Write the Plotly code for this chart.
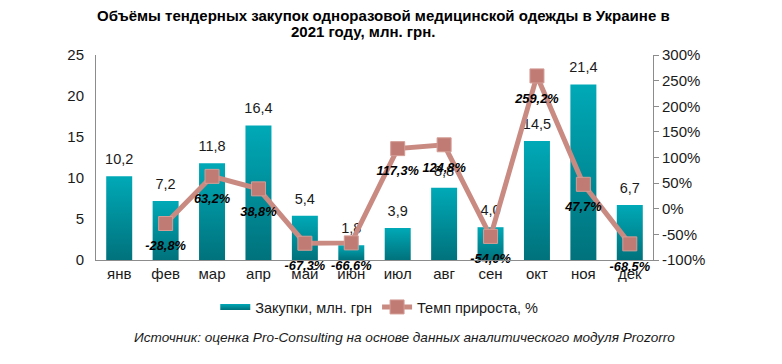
import plotly.graph_objects as go

months = ["янв", "фев", "мар", "апр", "май", "июн", "июл", "авг", "сен", "окт", "ноя", "дек"]
purchases = [10.2, 7.2, 11.8, 16.4, 5.4, 1.8, 3.9, 8.8, 4.0, 14.5, 21.4, 6.7]
growth = [None, -28.8, 63.2, 38.8, -67.3, -66.6, 117.3, 124.8, -54.0, 259.2, 47.7, -68.5]
left_ticks = [0, 5, 10, 15, 20, 25]
right_ticks = [-100, -50, 0, 50, 100, 150, 200, 250, 300]
title_lines = ["Объёмы тендерных закупок одноразовой медицинской одежды в Украине в",
               "2021 году, млн. грн."]

FONT = "Liberation Sans, Arial, sans-serif"
half = 0.28
L, T, W, H = 96, 55, 557, 205


def px(xp):
    return (xp - L) / W


def py(yp):
    return (T + H - yp) / H


fig = go.Figure()

for i, v in enumerate(purchases):
    fig.add_trace(go.Scatter(
        x=[i - half, i - half, i + half, i + half, i - half],
        y=[0, v, v, 0, 0],
        fill="toself",
        mode="none",
        fillcolor="#0096A3",
        fillgradient=dict(type="vertical",
                          colorscale=[[0, "#00727C"], [1, "#00A9B7"]]),
        name="Закупки, млн. грн",
        legendgroup="bars",
        showlegend=(i == 0),
        hoverinfo="skip",
    ))

fig.add_trace(go.Scatter(
    x=list(range(len(months))),
    y=purchases,
    mode="markers+text",
    marker=dict(size=12, opacity=0),
    text=[f"{v:.1f}".replace(".", ",") for v in purchases],
    textposition="top center",
    textfont=dict(family=FONT, size=14.5, color="#1a1a1a"),
    showlegend=False,
    hoverinfo="skip",
    cliponaxis=False,
))

gx = [i for i, g in enumerate(growth) if g is not None]
gy = [g for g in growth if g is not None]
fig.add_trace(go.Scatter(
    x=gx, y=gy,
    yaxis="y2",
    mode="lines+markers",
    line=dict(color="#C98A82", width=5),
    marker=dict(symbol="square", size=14, color="#C07C74",
                line=dict(color="#D49C95", width=1)),
    name="Темп прироста, %",
    hoverinfo="skip",
    cliponaxis=False,
))

fig.add_trace(go.Scatter(
    x=gx, y=gy,
    yaxis="y2",
    mode="markers+text",
    marker=dict(size=26, opacity=0),
    text=[f"{g:.1f}%".replace(".", ",") for g in gy],
    textposition="bottom center",
    textfont=dict(family=FONT, size=12.8, color="#000000", weight="bold", style="italic"),
    showlegend=False,
    hoverinfo="skip",
    cliponaxis=False,
))

fig.update_layout(
    width=782, height=364,
    margin=dict(l=L, r=782 - L - W, t=T, b=364 - T - H, autoexpand=False),
    paper_bgcolor="white", plot_bgcolor="white",
    font=dict(family=FONT, size=14, color="#1a1a1a"),
    xaxis=dict(
        range=[-0.5, 11.5],
        tickmode="array", tickvals=list(range(12)), ticktext=months,
        showgrid=False, zeroline=False,
        showline=True, linecolor="#8c8c8c", linewidth=1,
        ticks="", tickfont=dict(size=15),
    ),
    yaxis=dict(
        range=[0, 25], tickmode="array", tickvals=left_ticks,
        showgrid=False, zeroline=False,
        showline=True, linecolor="#8c8c8c", linewidth=1,
        ticks="", tickfont=dict(size=15), ticklabelstandoff=8,
    ),
    yaxis2=dict(
        range=[-100, 300], overlaying="y", side="right",
        tickmode="array", tickvals=right_ticks,
        ticktext=[f"{t}%" for t in right_ticks],
        showgrid=False, zeroline=False,
        showline=True, linecolor="#8c8c8c", linewidth=1,
        ticks="outside", ticklen=5, tickcolor="#8c8c8c",
        tickfont=dict(size=15),
    ),
    legend=dict(
        orientation="h",
        x=0.485, xref="container", xanchor="center",
        y=1 - 307 / 364, yref="container", yanchor="middle",
        font=dict(size=14.5, color="#1a1a1a"),
        traceorder="normal", itemwidth=30,
    ),
    annotations=[
        dict(text=f"<b>{title_lines[0]}</b>",
             x=px(383), xref="paper", xanchor="center",
             y=py(15), yref="paper", yanchor="middle", showarrow=False,
             font=dict(family=FONT, size=15, color="#000000")),
        dict(text=f"<b>{title_lines[1]}</b>",
             x=px(363), xref="paper", xanchor="center",
             y=py(32), yref="paper", yanchor="middle", showarrow=False,
             font=dict(family=FONT, size=15, color="#000000")),
        dict(text="<i>Источник: оценка Pro-Consulting на основе данных аналитического модуля Prozorro</i>",
             x=px(404), xref="paper", xanchor="center",
             y=py(337), yref="paper", yanchor="middle", showarrow=False,
             font=dict(family=FONT, size=13.6, color="#1a1a1a")),
    ],
)

fig.write_html("out.html", config={"displayModeBar": False},
               post_script="document.body.style.margin='0';")
